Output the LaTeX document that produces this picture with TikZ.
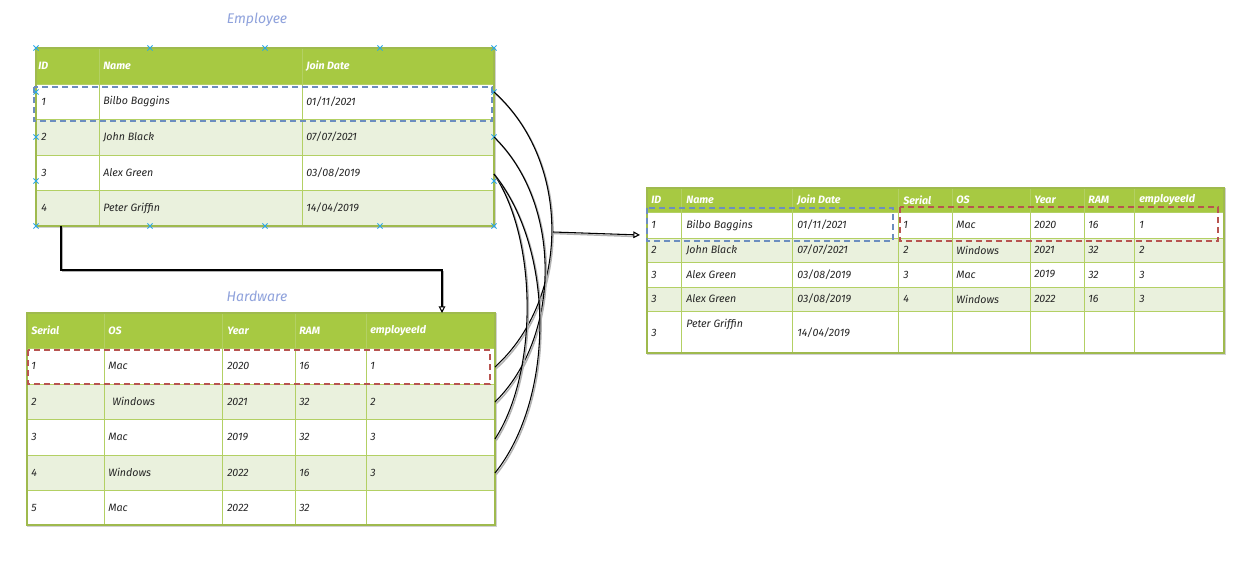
\documentclass[tikz,border=0pt]{standalone}
\usepackage{fontspec}
\setmainfont{Fira Sans}
\usetikzlibrary{arrows.meta}

\definecolor{hdr}{HTML}{A7C942}
\definecolor{alt}{HTML}{EAF1DD}
\definecolor{gridc}{HTML}{B3D064}
\definecolor{ttl}{HTML}{8FA2DC}
\definecolor{selblue}{HTML}{6C8EBF}
\definecolor{selred}{HTML}{B85450}
\definecolor{handle}{HTML}{2AA7E6}
\definecolor{ink}{HTML}{262626}

\tikzset{
  cell/.style={anchor=west, inner sep=0pt, text=ink,
    font=\itshape\fontsize{8}{9}\selectfont},
  head/.style={anchor=west, inner sep=0pt, text=white,
    font=\bfseries\itshape\fontsize{8}{9}\selectfont},
  tabletitle/.style={inner sep=0pt, text=ttl,
    font=\itshape\fontsize{10.5}{12}\selectfont},
  gridline/.style={draw=gridc, line width=0.7pt},
  outline/.style={draw=hdr!80!gray, line width=0.9pt},
  shade/.style={draw=black!18, line width=0.9pt},
  selbox/.style={dash pattern=on 4.5pt off 3pt, line width=1.2pt},
  sketch/.style={draw=black, line width=0.8pt},
  sketchshadow/.style={draw=black!30, line width=1.1pt},
  hx/.pic={\draw[handle, line width=0.6pt] (-2.6,-2.6)--(2.6,2.6) (-2.6,2.6)--(2.6,-2.6);},
  opentip/.style={-{Triangle[open, length=5pt, width=5pt, line width=0.8pt]}}
}

\begin{document}
\begin{tikzpicture}[x=0.75pt, y=-0.75pt]
\useasboundingbox (0,0) rectangle (1249,577);
\fill[white] (0,0) rectangle (1249,577);

% ---------------- Employee table ----------------
\node[tabletitle] (etitle) at (257,20) {Employee};
\draw[shade] (37,49) rectangle (495,227);
\fill[hdr] (36,48) rectangle (494,84);
\fill[white] (36,84) rectangle (494,119);
\fill[alt] (36,119) rectangle (494,155);
\fill[white] (36,155) rectangle (494,190);
\fill[alt] (36,190) rectangle (494,226);
\foreach \y in {84,119,155,190} \draw[gridline] (36,\y) -- (494,\y);
\foreach \x in {99,302} \draw[gridline] (\x,48) -- (\x,226);
\draw[outline] (36,48) rectangle (494,226);

\node[head] (eh1) at (38,66) {ID};
\node[head] (eh2) at (103,66) {Name};
\node[head] (eh3) at (306,66) {Join Date};
\node[cell] (e11) at (41,101.5) {1};
\node[cell] (e12) at (103,101.5) {Bilbo Baggins};
\node[cell] (e13) at (306,101.5) {01/11/2021};
\node[cell] (e21) at (41,137) {2};
\node[cell] (e22) at (103,137) {John Black};
\node[cell] (e23) at (306,137) {07/07/2021};
\node[cell] (e31) at (41,172.5) {3};
\node[cell] (e32) at (103,172.5) {Alex Green};
\node[cell] (e33) at (306,172.5) {03/08/2019};
\node[cell] (e41) at (41,208) {4};
\node[cell] (e42) at (103,208) {Peter Griffin};
\node[cell] (e43) at (306,208) {14/04/2019};

% ---------------- Hardware table ----------------
\node[tabletitle] (htitle) at (257,296) {Hardware};
\draw[shade] (28,314) rectangle (496,526);
\fill[hdr] (27,313) rectangle (495,348);
\fill[white] (27,348) rectangle (495,384);
\fill[alt] (27,384) rectangle (495,419);
\fill[white] (27,419) rectangle (495,455);
\fill[alt] (27,455) rectangle (495,490);
\fill[white] (27,490) rectangle (495,525);
\foreach \y in {348,384,419,455,490} \draw[gridline] (27,\y) -- (495,\y);
\foreach \x in {104,222,295,366} \draw[gridline] (\x,313) -- (\x,525);
\draw[outline] (27,313) rectangle (495,525);

\node[head] (hh1) at (31,330.5) {Serial};
\node[head] (hh2) at (108,330.5) {OS};
\node[head] (hh3) at (227,330.5) {Year};
\node[head] (hh4) at (299,330.5) {RAM};
\node[head] (hh5) at (370,330.5) {employeeId};
\node[cell] (h11) at (31,366) {1};
\node[cell] (h12) at (108,366) {Mac};
\node[cell] (h13) at (227,366) {2020};
\node[cell] (h14) at (299,366) {16};
\node[cell] (h15) at (370,366) {1};
\node[cell] (h21) at (31,401.5) {2};
\node[cell] (h22) at (112,401.5) {Windows};
\node[cell] (h23) at (227,401.5) {2021};
\node[cell] (h24) at (299,401.5) {32};
\node[cell] (h25) at (370,401.5) {2};
\node[cell] (h31) at (31,437) {3};
\node[cell] (h32) at (108,437) {Mac};
\node[cell] (h33) at (227,437) {2019};
\node[cell] (h34) at (299,437) {32};
\node[cell] (h35) at (370,437) {3};
\node[cell] (h41) at (31,472.5) {4};
\node[cell] (h42) at (108,472.5) {Windows};
\node[cell] (h43) at (227,472.5) {2022};
\node[cell] (h44) at (299,472.5) {16};
\node[cell] (h45) at (370,472.5) {3};
\node[cell] (h51) at (31,507.5) {5};
\node[cell] (h52) at (108,507.5) {Mac};
\node[cell] (h53) at (227,507.5) {2022};
\node[cell] (h54) at (299,507.5) {32};

% ---------------- Joined result table ----------------
\draw[shade] (648,189) rectangle (1225,354);
\fill[hdr] (647,188) rectangle (1224,212);
\fill[white] (647,212) rectangle (1224,238);
\fill[alt] (647,238) rectangle (1224,262);
\fill[white] (647,262) rectangle (1224,287);
\fill[alt] (647,287) rectangle (1224,311);
\fill[white] (647,311) rectangle (1224,353);
\foreach \y in {212,238,262,287,311} \draw[gridline] (647,\y) -- (1224,\y);
\foreach \x in {681,792,898,952,1030,1084,1134} \draw[gridline] (\x,188) -- (\x,353);
\draw[outline] (647,188) rectangle (1224,353);

\node[head] (rh1) at (651,200) {ID};
\node[head] (rh2) at (686,200) {Name};
\node[head] (rh3) at (797,200) {Join Date};
\node[head] (rh4) at (903,200) {Serial};
\node[head] (rh5) at (956,200) {OS};
\node[head] (rh6) at (1034,200) {Year};
\node[head] (rh7) at (1088,200) {RAM};
\node[head] (rh8) at (1139,200) {employeeId};

\node[cell] (r11) at (651,225) {1};
\node[cell] (r12) at (686,225) {Bilbo Baggins};
\node[cell] (r13) at (797,225) {01/11/2021};
\node[cell] (r14) at (903,225) {1};
\node[cell] (r15) at (956,225) {Mac};
\node[cell] (r16) at (1034,225) {2020};
\node[cell] (r17) at (1088,225) {16};
\node[cell] (r18) at (1139,225) {1};

\node[cell] (r21) at (651,250) {2};
\node[cell] (r22) at (686,250) {John Black};
\node[cell] (r23) at (797,250) {07/07/2021};
\node[cell] (r24) at (903,250) {2};
\node[cell] (r25) at (956,250) {Windows};
\node[cell] (r26) at (1034,250) {2021};
\node[cell] (r27) at (1088,250) {32};
\node[cell] (r28) at (1139,250) {2};

\node[cell] (r31) at (651,274.5) {3};
\node[cell] (r32) at (686,274.5) {Alex Green};
\node[cell] (r33) at (797,274.5) {03/08/2019};
\node[cell] (r34) at (903,274.5) {3};
\node[cell] (r35) at (956,274.5) {Mac};
\node[cell] (r36) at (1034,274.5) {2019};
\node[cell] (r37) at (1088,274.5) {32};
\node[cell] (r38) at (1139,274.5) {3};

\node[cell] (r41) at (651,299) {3};
\node[cell] (r42) at (686,299) {Alex Green};
\node[cell] (r43) at (797,299) {03/08/2019};
\node[cell] (r44) at (903,299) {4};
\node[cell] (r45) at (956,299) {Windows};
\node[cell] (r46) at (1034,299) {2022};
\node[cell] (r47) at (1088,299) {16};
\node[cell] (r48) at (1139,299) {3};

\node[cell] (r51) at (651,333) {3};
\node[cell] (r52) at (686,324) {Peter Griffin};
\node[cell] (r53) at (797,333) {14/04/2019};

% ---------------- selection outlines ----------------
\draw[selbox, selblue] (34,87) rectangle (492,121);
\draw[selbox, selred] (28,350) rectangle (490,384);
\draw[selbox, selblue] (647,208) rectangle (893,241);
\draw[selbox, selred] (900,207) rectangle (1218,241);

% ---------------- connection handles on the Employee table ----------------
\foreach \x in {36,150,265,380,494} {
  \pic at (\x,48) {hx};
  \pic at (\x,226) {hx};
}
\foreach \y in {92,137,181} {
  \pic at (36,\y) {hx};
  \pic at (494,\y) {hx};
}

% ---------------- connectors ----------------
\coordinate (eR1) at (494,92);
\coordinate (eR2) at (494,137);
\coordinate (eR3) at (494,174);
\coordinate (hR1) at (495,367);
\coordinate (hR2) at (495,402);
\coordinate (hR3) at (495,439);
\coordinate (hR4) at (495,473);
\coordinate (eBot) at (61,226);
\coordinate (hTop) at (442,313);
\coordinate (join) at (553,232);
\coordinate (rIn) at (640,235);

% matching rows: id -> employeeId
\foreach \a/\b/\c/\d/\e/\f in {eR1/hR1/571/161/571/298, eR2/hR2/562/203/562/336,
                                eR3/hR3/538/240/538/373, eR3/hR4/555/249/555/398} {
  \draw[sketchshadow] ([shift={(1.2,1.6)}]\a) .. controls (\c+1.2,\d+1.6) and (\e+1.2,\f+1.6) .. ([shift={(1.2,1.6)}]\b);
  \draw[sketch] (\a) .. controls (\c,\d) and (\e,\f) .. (\b);
}

% joined output
\draw[sketchshadow] ([shift={(0,1.5)}]join) -- ([shift={(-6,1.5)}]rIn);
\draw[sketch, opentip] (join) -- (rIn);

% Employee -> Hardware
\draw[sketchshadow] ([shift={(1.5,1.5)}]eBot) |- ([shift={(1.5,1.5)}]hTop |- 0,270) -- ([shift={(1.5,-6)}]hTop);
\draw[sketch, opentip] (eBot) -- (eBot |- 0,270) -| (hTop);

\end{tikzpicture}
\end{document}
